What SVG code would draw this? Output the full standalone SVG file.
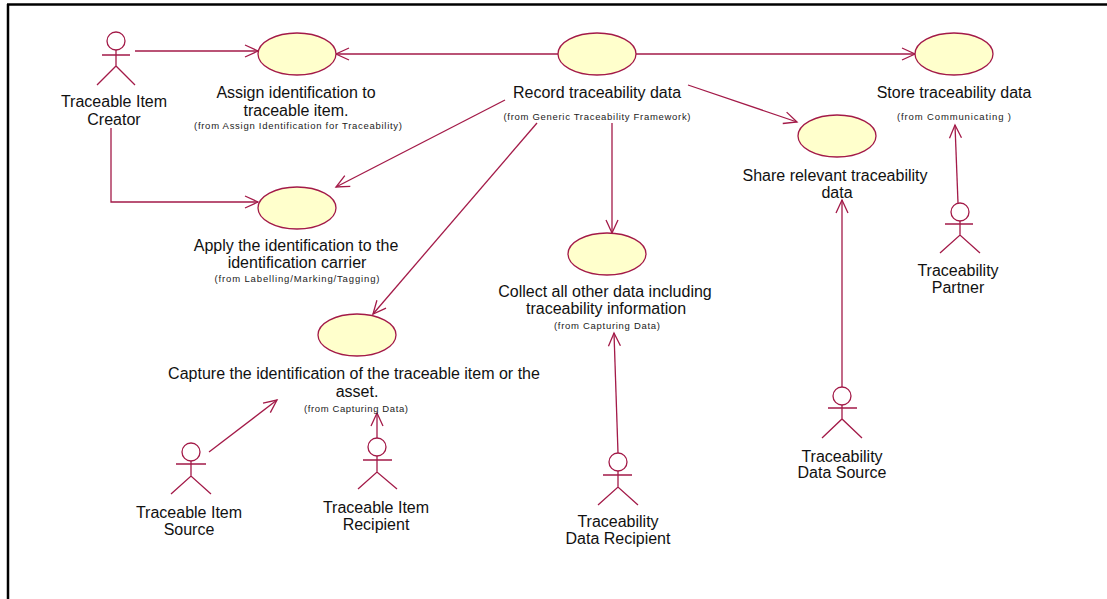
<svg xmlns="http://www.w3.org/2000/svg" width="1107" height="599" viewBox="0 0 1107 599">
<style>
.uc{fill:#FFFFCC;stroke:#A31A48;stroke-width:1.3}
.act{fill:none;stroke:#A31A48;stroke-width:1.3}
.ln{fill:none;stroke:#A31A48;stroke-width:1.3}
.t{font-family:"Liberation Sans",Arial,sans-serif;font-size:16px;fill:#111;text-anchor:middle}
.s{font-family:"Liberation Sans",Arial,sans-serif;font-size:9.5px;fill:#222;text-anchor:middle}
</style>
<defs>
<marker id="arr" markerUnits="userSpaceOnUse" markerWidth="16" markerHeight="16" viewBox="-14 -8 16 16" refX="0" refY="0" orient="auto">
<path d="M-13,-6 L0,0 L-13,6" fill="none" stroke="#A31A48" stroke-width="1.3"/>
</marker>
</defs>
<rect width="1107" height="599" fill="#fff"/>
<g id="frame"><line x1="7" y1="4.5" x2="1107" y2="4.5" stroke="#000" stroke-width="2.5"/><line x1="8" y1="4" x2="8" y2="599" stroke="#000" stroke-width="2.5"/></g>
<g id="connectors">
<line class="ln" x1="135" y1="51" x2="258" y2="51" marker-end="url(#arr)"/>
<line class="ln" x1="558" y1="54" x2="336" y2="54" marker-end="url(#arr)"/>
<line class="ln" x1="636" y1="54" x2="915" y2="54" marker-end="url(#arr)"/>
<line class="ln" x1="688" y1="85" x2="797" y2="122" marker-end="url(#arr)"/>
<line class="ln" x1="505" y1="100" x2="336" y2="187" marker-end="url(#arr)"/>
<line class="ln" x1="537" y1="123" x2="373" y2="314" marker-end="url(#arr)"/>
<line class="ln" x1="612" y1="123" x2="612" y2="233" marker-end="url(#arr)"/>
<polyline class="ln" points="111,128 111,202 258,202" marker-end="url(#arr)"/>
<line class="ln" x1="958" y1="203" x2="955" y2="125" marker-end="url(#arr)"/>
<line class="ln" x1="842" y1="387" x2="842" y2="200" marker-end="url(#arr)"/>
<line class="ln" x1="209" y1="452" x2="277" y2="400" marker-end="url(#arr)"/>
<line class="ln" x1="377" y1="438" x2="377" y2="413" marker-end="url(#arr)"/>
<line class="ln" x1="618" y1="453" x2="614" y2="333" marker-end="url(#arr)"/>
</g>
<g id="uc-assign">
<ellipse class="uc" cx="297" cy="54" rx="39" ry="21"/>
<text class="t" x="296" y="98">Assign identification to</text>
<text class="t" x="296" y="116">traceable item.</text>
<text class="s" x="298" y="129" textLength="208" lengthAdjust="spacing">(from Assign Identification for Traceability)</text>
</g>
<g id="uc-record">
<ellipse class="uc" cx="597" cy="54" rx="39" ry="21"/>
<text class="t" x="597" y="98">Record traceability data</text>
<text class="s" x="597" y="120" textLength="187" lengthAdjust="spacing">(from Generic Traceability Framework)</text>
</g>
<g id="uc-store">
<ellipse class="uc" cx="954" cy="54" rx="39" ry="21"/>
<text class="t" x="954" y="98">Store traceability data</text>
<text class="s" x="954" y="120" textLength="114" lengthAdjust="spacing">(from Communicating )</text>
</g>
<g id="uc-share">
<ellipse class="uc" cx="837" cy="136" rx="39" ry="21"/>
<text class="t" x="835" y="181">Share relevant traceability</text>
<text class="t" x="837" y="198">data</text>
</g>
<g id="uc-apply">
<ellipse class="uc" cx="297" cy="208" rx="39" ry="21"/>
<text class="t" x="296" y="251">Apply the identification to the</text>
<text class="t" x="297" y="268">identification carrier</text>
<text class="s" x="297" y="282" textLength="165" lengthAdjust="spacing">(from Labelling/Marking/Tagging)</text>
</g>
<g id="uc-collect">
<ellipse class="uc" cx="607" cy="254" rx="39" ry="21"/>
<text class="t" x="605" y="297">Collect all other data including</text>
<text class="t" x="606" y="314">traceability information</text>
<text class="s" x="607" y="329" textLength="106" lengthAdjust="spacing">(from Capturing Data)</text>
</g>
<g id="uc-capture">
<ellipse class="uc" cx="357" cy="335" rx="39" ry="21"/>
<text class="t" x="354" y="379">Capture the identification of the traceable item or the</text>
<text class="t" x="357" y="397">asset.</text>
<text class="s" x="356" y="412" textLength="104" lengthAdjust="spacing">(from Capturing Data)</text>
</g>
<g id="actor-creator">
<circle class="act" cx="116" cy="41" r="9"/>
<path class="act" d="M102,55 H130 M116,50 V66 M97,85 L116,66 L135,85"/>
<text class="t" x="114" y="107">Traceable Item</text>
<text class="t" x="114" y="125">Creator</text>
</g>
<g id="actor-partner">
<circle class="act" cx="960" cy="212" r="9"/>
<path class="act" d="M945,224 H973 M960,221 V235 M940,253 L960,235 L980,253"/>
<text class="t" x="958" y="276">Traceability</text>
<text class="t" x="958" y="293">Partner</text>
</g>
<g id="actor-datasource">
<circle class="act" cx="842" cy="396" r="9"/>
<path class="act" d="M828,408 H857 M842,405 V419 M822,438 L842,419 L862,438"/>
<text class="t" x="842" y="462">Traceability</text>
<text class="t" x="842" y="478">Data Source</text>
</g>
<g id="actor-source">
<circle class="act" cx="191" cy="452" r="9"/>
<path class="act" d="M176,464 H206 M191,461 V476 M171,494 L191,476 L211,494"/>
<text class="t" x="189" y="518">Traceable Item</text>
<text class="t" x="189" y="535">Source</text>
</g>
<g id="actor-recipient">
<circle class="act" cx="377" cy="447" r="9"/>
<path class="act" d="M363,460 H392 M377,456 V472 M358,489 L377,472 L397,489"/>
<text class="t" x="376" y="513">Traceable Item</text>
<text class="t" x="376" y="530">Recipient</text>
</g>
<g id="actor-datarecipient">
<circle class="act" cx="618" cy="462" r="9"/>
<path class="act" d="M603,475 H632 M618,471 V487 M598,505 L618,487 L638,505"/>
<text class="t" x="618" y="527">Traceability</text>
<text class="t" x="618" y="544">Data Recipient</text>
</g>
</svg>
